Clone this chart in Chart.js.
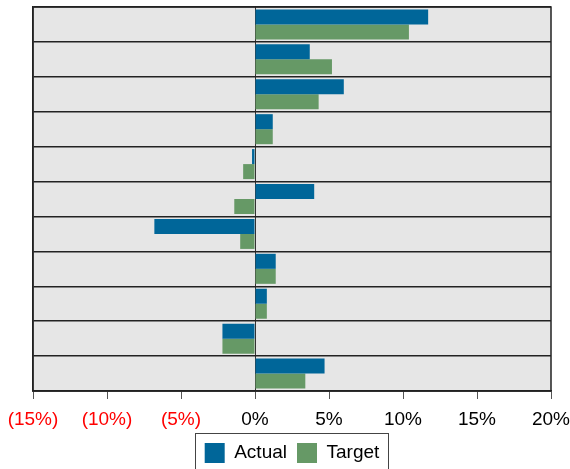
<!DOCTYPE html>
<html>
<head>
<meta charset="utf-8">
<script src="https://cdn.jsdelivr.net/npm/chart.js@4"></script>
<style>
  html, body { margin: 0; padding: 0; background: #fff; }
  #wrap { width: 570px; height: 469px; }
</style>
</head>
<body>
<div id="wrap"><canvas id="myChart"></canvas></div>
<script>
// rows top to bottom, no names shown on the chart
const categories = ['1', '2', '3', '4', '5', '6', '7', '8', '9', '10', '11'];
const actual = [11.7, 3.7, 6.0, 1.2, -0.2, 4.0, -6.8, 1.4, 0.8, -2.2, 4.7];
const target = [10.4, 5.2, 4.3, 1.2, -0.8, -1.4, -1.0, 1.4, 0.8, -2.2, 3.4];
const tickValues = [-15, -10, -5, 0, 5, 10, 15, 20];

const fontFamily = '"Liberation Sans", Arial, sans-serif';

// grey plot background + outer frame + legend frame
const framePlugin = {
    id: 'frame',
    beforeDraw(chart) {
        const a = chart.chartArea, c = chart.ctx;
        c.save();
        c.fillStyle = '#e6e6e6';
        c.fillRect(a.left, a.top, a.right - a.left, a.bottom - a.top);
        c.restore();
    },
    afterDraw(chart) {
        const a = chart.chartArea, c = chart.ctx;
        c.save();
        c.strokeStyle = '#222';
        c.lineWidth = 1.5;
        c.strokeRect(a.left, a.top, a.right - a.left, a.bottom - a.top);
        // box round the legend items
        const boxes = chart.legend.legendHitBoxes;
        if (boxes && boxes.length) {
            const first = boxes[0], last = boxes[boxes.length - 1];
            const x0 = Math.round(first.left - 10) + 0.5;
            const x1 = Math.round(last.left + last.width + 9) + 0.5;
            const y0 = Math.round(chart.legend.top) + 0.5;
            c.strokeStyle = '#444';
            c.lineWidth = 1;
            c.strokeRect(x0, y0, x1 - x0, 60);
        }
        c.restore();
    }
};

function renderChart() {
    var ctx = document.getElementById('myChart').getContext('2d');
    return new Chart(ctx, {
        type: 'bar',
        data: {
            labels: categories,
            datasets: [
                { label: 'Actual', data: actual, backgroundColor: '#006699' },
                { label: 'Target', data: target, backgroundColor: '#669966' }
            ]
        },
        options: {
            indexAxis: 'y',
            responsive: true,
            maintainAspectRatio: false,
            animation: false,
            layout: { padding: { top: 7, right: 19, left: 33, bottom: -4 } },
            datasets: { bar: { categoryPercentage: 0.86, barPercentage: 1.0 } },
            scales: {
                x: {
                    min: -15,
                    max: 20,
                    afterBuildTicks(axis) {
                        axis.ticks = tickValues.map(v => ({ value: v }));
                    },
                    afterFit(axis) {
                        axis.height = 42;
                        axis.paddingLeft = 0;
                        axis.paddingRight = 0;
                    },
                    grid: {
                        color: c => (c.tick && c.tick.value === 0) ? '#333' : 'rgba(0,0,0,0)',
                        tickColor: '#555',
                        tickLength: 8,
                        lineWidth: 1
                    },
                    border: { color: '#222', width: 1.5 },
                    ticks: {
                        autoSkip: false,
                        maxRotation: 0,
                        padding: 9,
                        font: { family: fontFamily, size: 19 },
                        color: c => c.tick.value < 0 ? '#ff0000' : '#000',
                        callback: v => v < 0 ? '(' + Math.abs(v) + '%)' : v + '%'
                    }
                },
                y: {
                    type: 'category',
                    grid: { offset: true, color: '#222', lineWidth: 1.5, drawTicks: false },
                    border: { color: '#222', width: 1.5 },
                    ticks: { display: false }
                }
            },
            plugins: {
                legend: {
                    position: 'bottom',
                    labels: {
                        boxWidth: 20,
                        boxHeight: 20,
                        padding: 10,
                        color: '#000',
                        font: { family: fontFamily, size: 19 }
                    }
                },
                tooltip: { enabled: false }
            }
        },
        plugins: [framePlugin]
    });
}

renderChart();
</script>
</body>
</html>
